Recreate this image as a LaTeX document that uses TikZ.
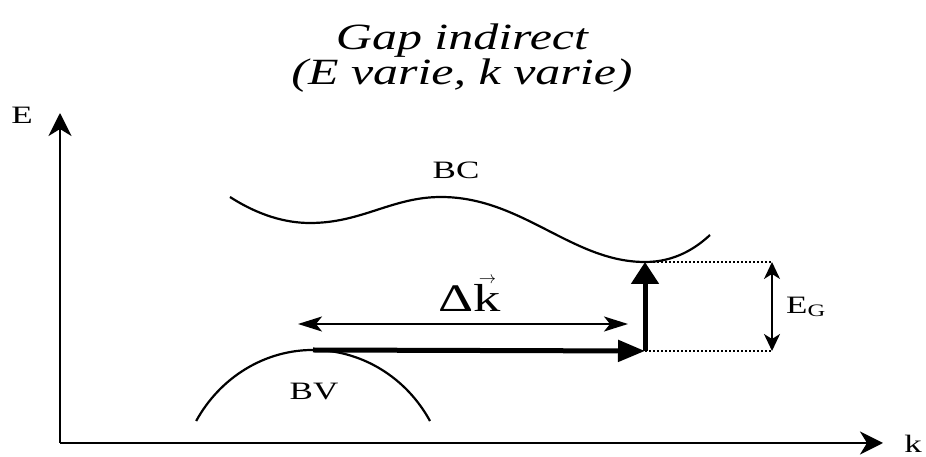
\documentclass[tikz,border=0pt]{standalone}
\usepackage{fontspec}
\setmainfont{Liberation Serif}[FakeStretch=1.4]
\newfontfamily\titlefont{Liberation Serif}[FakeStretch=1.35]
\usepackage{amsmath}
\usetikzlibrary{arrows.meta}
\newcommand{\veck}{{\ooalign{k\cr\hidewidth\raisebox{28pt}{\fontsize{18}{18}\selectfont$\rightarrow$}\hidewidth\cr}}}

\begin{document}
\begin{tikzpicture}[x=1pt, y=1pt,
      axis/.style={line width=2.8pt, -{Stealth[length=23pt, width=23pt, inset=7pt]}},
      band/.style={line width=2.2pt},
      jump/.style={line width=5pt},
      span/.style={line width=2pt, {Stealth[length=24pt, width=15pt, inset=6pt]}-{Stealth[length=24pt, width=15pt, inset=6pt]}},
      gap/.style={line width=2pt, {Stealth[length=17pt, width=16pt, inset=5pt]}-{Stealth[length=17pt, width=16pt, inset=5pt]}},
      guide/.style={line width=1.6pt, dash pattern=on 1.6pt off 2.4pt},
      lbl/.style={font=\fontsize{25}{28}\selectfont},
      ttl/.style={anchor=base, font=\titlefont\fontsize{37}{36}\selectfont\itshape}
    ]
      \useasboundingbox (0,0) rectangle (926,457);

      % Title
      \node[ttl] (title) at (462,407) {Gap indirect};
      \node[ttl] (subtitle) at (462,372) {(E varie, k varie)};

      % Axes
      \coordinate (origin) at (60,14);
      \coordinate (Etip) at (60,344);
      \coordinate (ktip) at (883,14);
      \draw[axis] (origin) -- (Etip);
      \draw[axis] (origin) -- (ktip);
      \node[lbl] (Elabel) at (22,342) {E};
      \node[lbl] (klabel) at (913,13) {k};

      % Bands
      \coordinate (bvtop) at (313,107);
      \coordinate (bcmin) at (645,195);
      \coordinate (corner) at (645,106);
      \draw[band] (230,260) .. controls (258,242) and (285,234) .. (310,234)
        .. controls (362,234) and (392,260) .. (441,260)
        .. controls (522,260) and (572,195) .. (bcmin)
        .. controls (675,195) and (696,209) .. (710,222);
      \draw[band] (430,36) arc[start angle=30, end angle=150, x radius=135, y radius=142];
      \node[lbl] (bc) at (456,287) {BC};
      \node[lbl] (bv) at (314,65) {BV};

      % Transition
      \draw[jump, -{Triangle[length=27pt, width=21pt]}] (bvtop) -- (corner);
      \draw[jump, -{Triangle[length=22pt, width=27pt]}] (corner) -- (bcmin);

      % Delta k
      \coordinate (dkl) at (298,133);
      \coordinate (dkr) at (628,133);
      \draw[span] (dkl) -- (dkr);
      \node[font=\fontsize{39}{40}\selectfont, anchor=base] (dk) at (470,145) {Δ\veck};

      % Gap
      \coordinate (egt) at (772,195);
      \coordinate (egb) at (772,106);
      \draw[guide] (bcmin) -- (egt);
      \draw[guide] (corner) -- (egb);
      \draw[gap] (egb) -- (egt);
      \node[lbl, anchor=west, inner sep=0pt] (eg) at (786,150) {E\textsubscript{G}};
    \end{tikzpicture}
\end{document}
